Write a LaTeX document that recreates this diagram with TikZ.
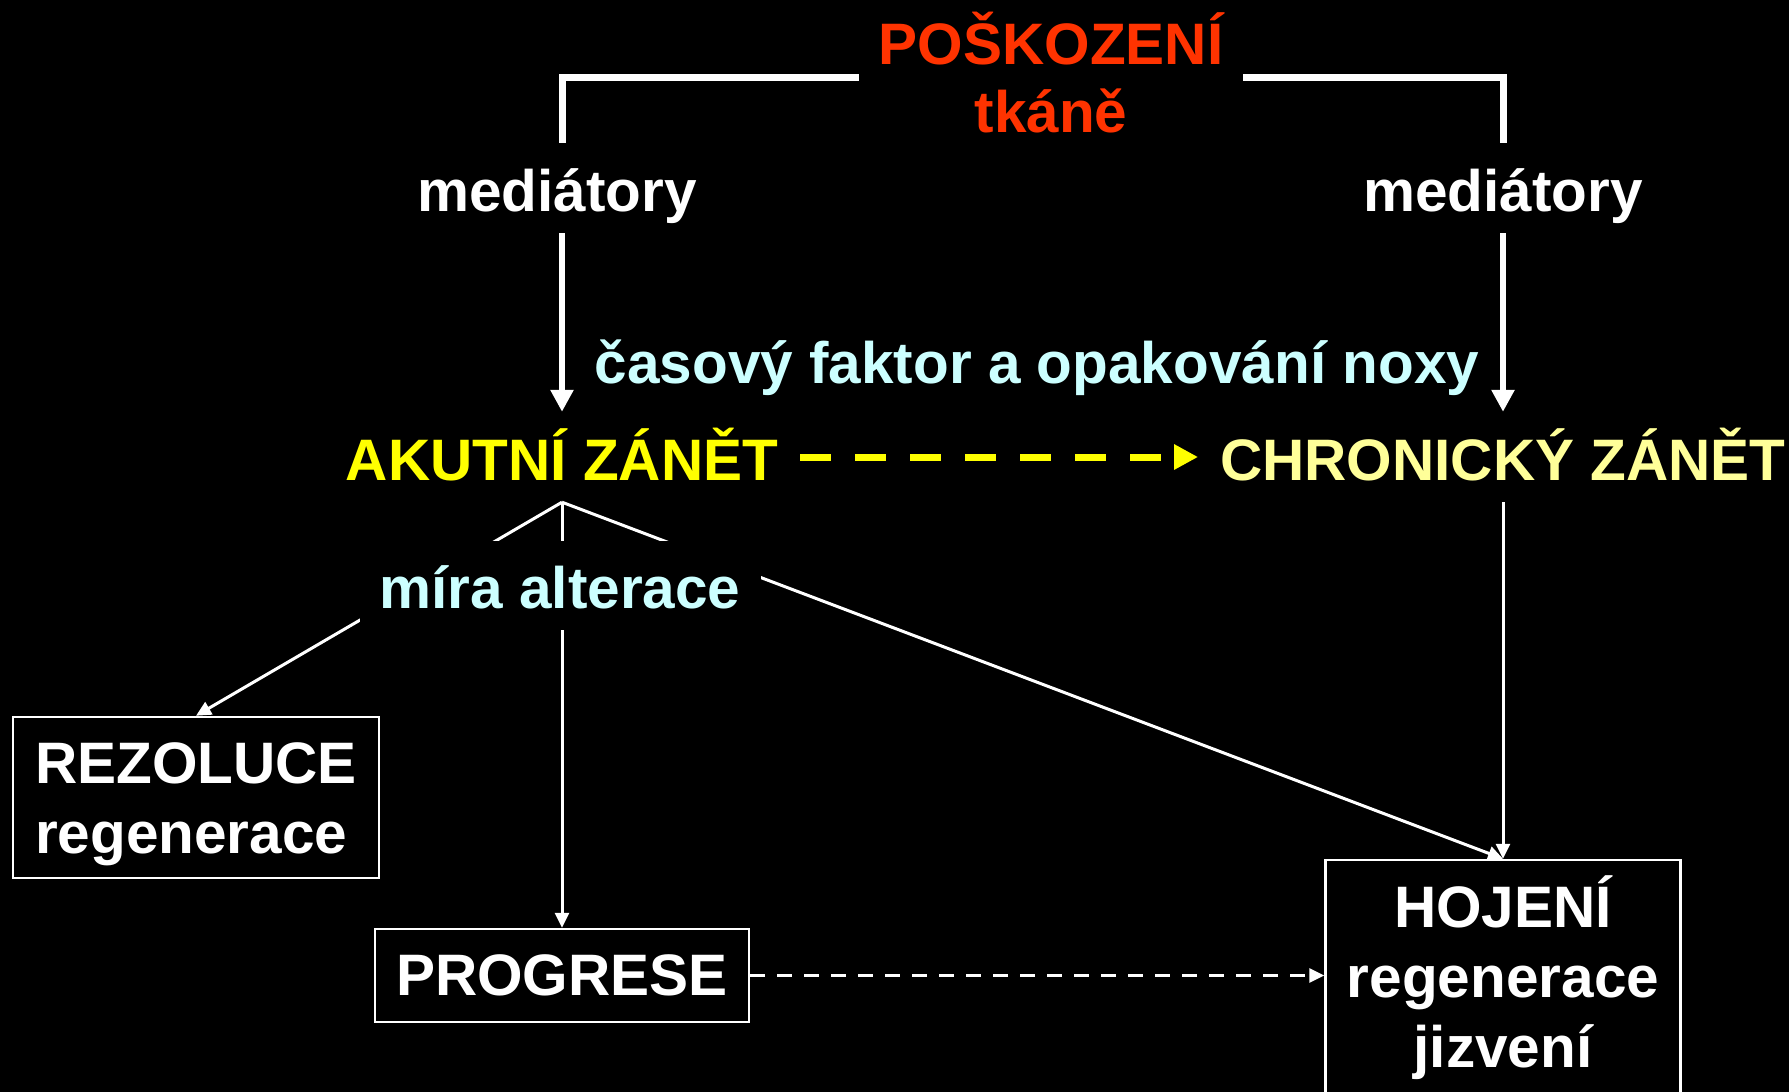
\documentclass[tikz,border=0pt]{standalone}
\usepackage{fontspec}
\setmainfont{Liberation Sans}
\usetikzlibrary{arrows.meta}
\definecolor{pred}{HTML}{FF3300}
\definecolor{pcyan}{HTML}{CCFFFF}
\definecolor{pyel}{HTML}{FFFF00}
\definecolor{ppale}{HTML}{FFFF99}
\begin{document}
\begin{tikzpicture}[x=1pt,y=-1pt,
  lbl/.style={font=\fontsize{58.5}{70}\selectfont\bfseries, inner sep=0pt, text=white},
  medstyle/.style={lbl, anchor=base, text height=58pt, text depth=12pt, inner ysep=10pt},
  zanet/.style={lbl, anchor=base, text height=46pt, text depth=0pt, inner ysep=22pt, inner xsep=22pt},
  framebox/.style={lbl, draw=white, line width=2.5pt, anchor=base},
  bracket/.style={draw=white, line width=7pt, line join=miter},
  bigarrow/.style={draw=white, line width=6.5pt, -{Triangle[length=22pt,width=22pt]}},
  thinarrow/.style={draw=white, line width=3pt, -{Triangle[length=15pt,width=14pt]}},
  ydash/.style={draw=pyel, line width=7pt, dash pattern=on 31pt off 24pt, -{Triangle[length=24pt,width=24pt]}},
  wdash/.style={draw=white, line width=3pt, dash pattern=on 15pt off 12pt, -{Triangle[length=15pt,width=14pt]}}]
\fill[black] (0,0) rectangle (1789,1092);
\useasboundingbox (0,0) rectangle (1789,1092);

\node[lbl, text=pred, anchor=base, inner xsep=20pt] (pos) at (1051,64) {POŠKOZENÍ};
\node[lbl, text=pred, anchor=base] (tkane) at (1051,132) {tkáně};
\node[medstyle] (medL) at (557,211) {mediátory};
\node[medstyle] (medR) at (1503,211) {mediátory};
\node[lbl, text=pcyan, anchor=base] (cas) at (1037,383) {časový faktor a opakování noxy};
\node[zanet, text=pyel] (akut) at (562,480) {AKUTNÍ ZÁNĚT};
\node[zanet, text=ppale] (chron) at (1503,480) {CHRONICKÝ ZÁNĚT};

\node[framebox, text height=66pt, text depth=95pt, minimum width=366pt] (rez) at (196,783)
  {\begin{tabular}[t]{@{}l@{}}REZOLUCE\\regenerace\end{tabular}};
\node[framebox, text height=66pt, text depth=27pt, minimum width=374pt] (prog) at (562,995) {PROGRESE};
\node[framebox, text height=67pt, text depth=250pt, minimum width=355pt] (hoj) at (1503,927)
  {\begin{tabular}[t]{@{}c@{}}HOJENÍ\\regenerace\\jizvení\end{tabular}};

\draw[bracket] ([yshift=-13pt]pos.base west) -| ([xshift=5pt]medL.north);
\draw[bracket] ([yshift=-13pt]pos.base east) -| (medR.north);
\draw[bigarrow] ([xshift=5pt]medL.south) -- (akut.north);
\draw[bigarrow] (medR.south) -- (chron.north);
\draw[ydash] (akut.east) -- (chron.west);

\draw[thinarrow] (akut.south) -- (rez.north);
\draw[thinarrow] (akut.south) -- (prog.north);
\draw[thinarrow] (akut.south) -- (hoj.north);
\draw[thinarrow] (chron.south) -- (hoj.north);
\draw[wdash] (prog.east) -- (prog.east -| hoj.west);

\node[lbl, text=pcyan, fill=black, anchor=base, text height=62pt, text depth=17pt,
  inner ysep=5pt, inner xsep=20pt] (mira) at (560,608) {míra alterace};
\end{tikzpicture}
\end{document}
